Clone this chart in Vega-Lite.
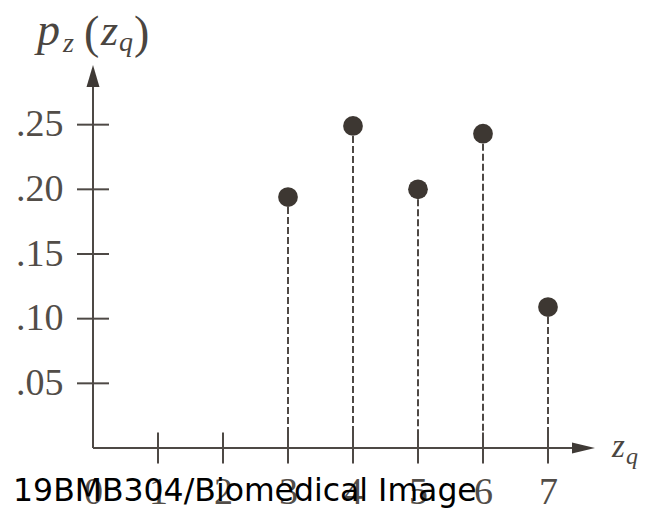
{
  "$schema": "https://vega.github.io/schema/vega-lite/v6.json",
  "width": 507,
  "height": 388,
  "autosize": {"type": "none"},
  "padding": {"left": 93, "top": 60, "right": 46, "bottom": 62},
  "background": "white",
  "config": {"view": {"stroke": null}},
  "datasets": {
    "points": [
      {"z": 3, "p": 0.194},
      {"z": 4, "p": 0.249},
      {"z": 5, "p": 0.2},
      {"z": 6, "p": 0.243},
      {"z": 7, "p": 0.109}
    ],
    "yticks": [{"v": 0.05}, {"v": 0.1}, {"v": 0.15}, {"v": 0.2}, {"v": 0.25}],
    "xticks": [{"v": 1}, {"v": 2}, {"v": 3}, {"v": 4}, {"v": 5}, {"v": 6}, {"v": 7}],
    "one": [{}]
  },
  "layer": [
    {
      "data": {"name": "points"},
      "mark": {"type": "rule", "color": "#4e4945", "strokeWidth": 2, "strokeDash": [7, 3]},
      "encoding": {
        "x": {"field": "z", "type": "quantitative",
          "scale": {"domain": [0, 7.8], "nice": false, "zero": false},
          "axis": {"title": null, "values": [0, 1, 2, 3, 4, 5, 6, 7], "format": "d", "domain": false, "ticks": false, "tickSize": 0, "grid": false,
            "labelFont": "Liberation Serif", "labelFontSize": 38, "labelColor": "#524d48", "labelBaseline": "alphabetic", "labelPadding": 55, "labelFlush": false, "labelOverlap": false}},
        "y": {"field": "p", "type": "quantitative",
          "scale": {"domain": [0, 0.3], "nice": false, "zero": false},
          "axis": {"title": null, "values": [0.05, 0.1, 0.15, 0.2, 0.25], "labelExpr": "substring(format(datum.value,'.2f'),1)", "domain": false, "ticks": false, "tickSize": 0, "grid": false,
            "labelFont": "Liberation Serif", "labelFontSize": 38, "labelColor": "#524d48", "labelPadding": 30, "labelOverlap": false}},
        "y2": {"datum": 0}
      }
    },
    {
      "data": {"name": "one"},
      "mark": {"type": "rule", "color": "#4e4945", "strokeWidth": 2},
      "encoding": {"x": {"datum": 0}, "y": {"datum": 0}, "y2": {"datum": 0.28}}
    },
    {
      "data": {"name": "one"},
      "mark": {"type": "rule", "color": "#4e4945", "strokeWidth": 2},
      "encoding": {"y": {"datum": 0}, "x": {"datum": 0}, "x2": {"datum": 7.4}}
    },
    {
      "data": {"name": "yticks"},
      "mark": {"type": "rule", "color": "#4e4945", "strokeWidth": 2},
      "encoding": {"y": {"field": "v", "type": "quantitative"}, "x": {"datum": -0.246}, "x2": {"datum": 0.246}}
    },
    {
      "data": {"name": "xticks"},
      "mark": {"type": "rule", "color": "#4e4945", "strokeWidth": 2},
      "encoding": {"x": {"field": "v", "type": "quantitative"}, "y": {"datum": -0.012}, "y2": {"datum": 0.012}}
    },
    {
      "data": {"name": "one"},
      "mark": {"type": "point", "shape": "M0,-1L0.59,1L-0.59,1Z", "size": 484, "filled": true, "opacity": 1, "color": "#3f3a36"},
      "encoding": {"x": {"datum": 0}, "y": {"datum": 0.2876}}
    },
    {
      "data": {"name": "one"},
      "mark": {"type": "point", "shape": "M1,0L-1,-0.47L-1,0.47Z", "size": 529, "filled": true, "opacity": 1, "color": "#3f3a36"},
      "encoding": {"x": {"datum": 7.546}, "y": {"datum": 0}}
    },
    {
      "data": {"name": "points"},
      "mark": {"type": "point", "shape": "circle", "size": 390, "filled": true, "opacity": 1, "color": "#3d3732"},
      "encoding": {"x": {"field": "z", "type": "quantitative"}, "y": {"field": "p", "type": "quantitative"}}
    },
    {
      "data": {"name": "one"},
      "mark": {"type": "text", "text": "p", "font": "Liberation Serif", "fontStyle": "italic", "fontSize": 46, "color": "#4a4540", "align": "left", "baseline": "alphabetic"},
      "encoding": {"x": {"datum": -0.862}, "y": {"datum": 0.3116}}
    },
    {
      "data": {"name": "one"},
      "mark": {"type": "text", "text": "z", "font": "Liberation Serif", "fontStyle": "italic", "fontSize": 28, "color": "#4a4540", "align": "left", "baseline": "alphabetic"},
      "encoding": {"x": {"datum": -0.462}, "y": {"datum": 0.3062}}
    },
    {
      "data": {"name": "one"},
      "mark": {"type": "text", "text": "(", "font": "Liberation Serif", "fontSize": 46, "color": "#4a4540", "align": "left", "baseline": "alphabetic"},
      "encoding": {"x": {"datum": -0.138}, "y": {"datum": 0.3093}}
    },
    {
      "data": {"name": "one"},
      "mark": {"type": "text", "text": "z", "font": "Liberation Serif", "fontStyle": "italic", "fontSize": 44, "color": "#4a4540", "align": "left", "baseline": "alphabetic"},
      "encoding": {"x": {"datum": 0.123}, "y": {"datum": 0.3116}}
    },
    {
      "data": {"name": "one"},
      "mark": {"type": "text", "text": "q", "font": "Liberation Serif", "fontStyle": "italic", "fontSize": 28, "color": "#4a4540", "align": "left", "baseline": "alphabetic"},
      "encoding": {"x": {"datum": 0.4}, "y": {"datum": 0.3069}}
    },
    {
      "data": {"name": "one"},
      "mark": {"type": "text", "text": ")", "font": "Liberation Serif", "fontSize": 46, "color": "#4a4540", "align": "left", "baseline": "alphabetic"},
      "encoding": {"x": {"datum": 0.631}, "y": {"datum": 0.3093}}
    },
    {
      "data": {"name": "one"},
      "mark": {"type": "text", "text": "z", "font": "Liberation Serif", "fontStyle": "italic", "fontSize": 33, "color": "#4a4540", "align": "left", "baseline": "alphabetic"},
      "encoding": {"x": {"datum": 7.985}, "y": {"datum": -0.0066}}
    },
    {
      "data": {"name": "one"},
      "mark": {"type": "text", "text": "q", "font": "Liberation Serif", "fontStyle": "italic", "fontSize": 24, "color": "#4a4540", "align": "left", "baseline": "alphabetic"},
      "encoding": {"x": {"datum": 8.2}, "y": {"datum": -0.0127}}
    },
    {
      "data": {"name": "one"},
      "mark": {"type": "text", "text": "19BMB304/Biomedical Image", "font": "DejaVu Sans", "fontSize": 31.5, "color": "#000000", "align": "left", "baseline": "alphabetic"},
      "encoding": {"x": {"datum": -1.23}, "y": {"datum": -0.0413}}
    }
  ]
}
